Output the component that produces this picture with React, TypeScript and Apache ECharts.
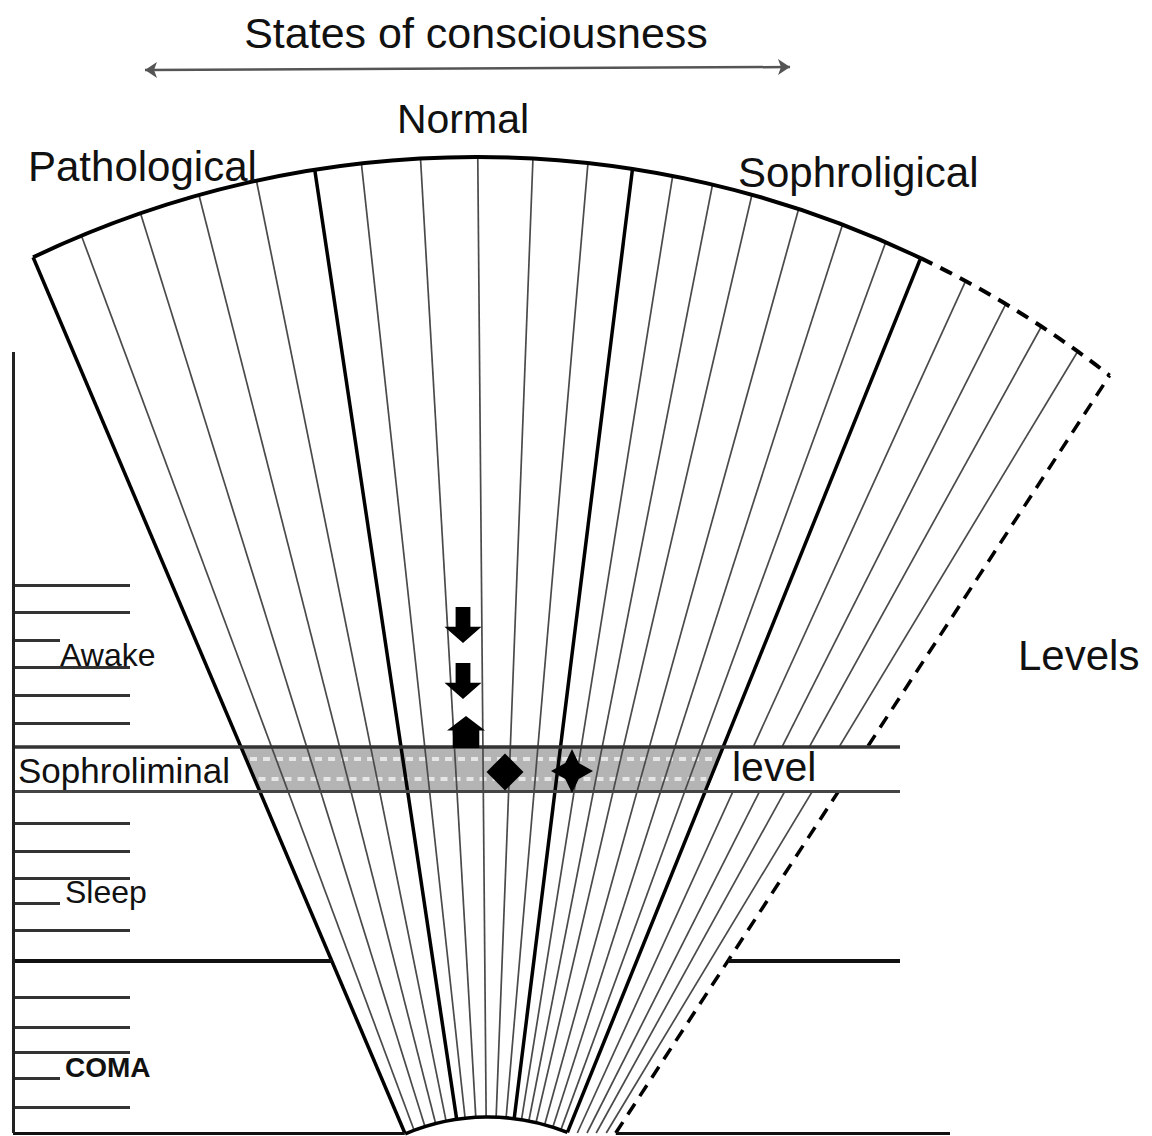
import React, { useEffect, useRef } from "react";
import * as echarts from "echarts";

const W = 1152;
const H = 1136;

// ---- data ----
const titleText = "States of consciousness";
const stateLabels = ["Pathological", "Normal", "Sophroligical"];
const levelsTitle = "Levels";
const levelLabels = ["Awake", "Sleep", "COMA"];
const bandLabels = ["Sophroliminal", "level"];
// fan rays: angle in degrees from vertical (positive = right)
const rayAngles = [-23.0, -20.4, -17.3, -14.3, -11.4, -8.5, -6.2, -3.3, -0.5, 2.2, 4.9, 7.1, 9.1, 11.1, 13.1, 15.5, 17.8, 20.1, 22.0, 24.5, 26.8, 28.9, 31.1, 33.1];
const boldRayIdx = [0, 5, 11, 18];
const dashedRayIdx = [23];
// level scale (y positions along the left scale)
const longTickY = [585, 612, 667, 695, 723, 823, 851, 878, 930, 997, 1027, 1052, 1107];
const shortTickY = [640, 903, 1078];
const bandY = [747, 791];
const dividerY = 961;
const baselineY = 1133;
const scaleTopY = 352;
// path markers
const markerPos = [[463, 625], [463, 681], [466, 732], [505, 772], [572, 771]];
const markerKind = ["down", "down", "up", "diamond", "star"];

// ---- geometry constants ----
const F = { x: 488, y: 1329 }; // fan focus
const INNER_R = 212;
const C = { x: 476, y: 1185 }; // rim circle centre
const RIM_R = 1028;
const deg = Math.PI / 180;
const AXIS_X = 13;

function rayPoints(a: number) {
  const ux = Math.sin(a * deg);
  const uy = -Math.cos(a * deg);
  const dx = F.x - C.x;
  const dy = F.y - C.y;
  const b = ux * dx + uy * dy;
  const t = -b + Math.sqrt(b * b - (dx * dx + dy * dy - RIM_R * RIM_R));
  let t0 = INNER_R;
  if (F.y + uy * t0 > baselineY) t0 = (F.y - baselineY) / -uy;
  return [
    [F.x + ux * t0, F.y + uy * t0],
    [F.x + ux * t, F.y + uy * t],
  ];
}
function xAtY(a: number, y: number) {
  return F.x + (F.y - y) * Math.tan(a * deg);
}

const symbols: Record<string, { path: string; size: number[] }> = {
  down: { path: "path://M3,0L7,0L7,5.5L10,5.5L5,10L0,5.5L3,5.5Z", size: [37, 36] },
  up: { path: "path://M5,0L10,4.5L8.5,4.5L8.5,10L1.5,10L1.5,4.5L0,4.5Z", size: [38, 32] },
  diamond: { path: "path://M5,0L10,5L5,10L0,5Z", size: [37, 37] },
  star: { path: "path://M5,0L6.6,3.2L10,5L6.6,6.8L5,10L3.4,6.8L0,5L3.4,3.2Z", size: [42, 44] },
};

export default function App() {
  const ref = useRef<HTMLDivElement>(null);
  useEffect(() => {
    const chart = echarts.init(ref.current!, null, { renderer: "svg" });
    const rays = rayAngles.map((a) => rayPoints(a));
    const rayData = rays.map((pts, i) => ({
      coords: pts,
      lineStyle: boldRayIdx.includes(i)
        ? { color: "#000", width: 3.5, type: "solid", opacity: 1 }
        : dashedRayIdx.includes(i)
        ? { color: "#000", width: 3.5, type: [13, 9], opacity: 1 }
        : { color: "#4a4a4a", width: 1.7, type: "solid", opacity: 1 },
    }));

    const leftA = rayAngles[0];
    const rightA = rayAngles[rayAngles.length - 1];
    const boldRightA = rayAngles[18];

    const ang = (p: number[]) => Math.atan2(p[1] - C.y, p[0] - C.x);
    const arcSpecs = [
      { cx: C.x, cy: C.y, r: RIM_R, a0: ang(rays[0][1]), a1: ang(rays[18][1]), dash: null as any, w: 4 },
      { cx: C.x, cy: C.y, r: RIM_R, a0: ang(rays[18][1]), a1: ang(rays[23][1]), dash: [13, 9], w: 4 },
      { cx: F.x, cy: F.y, r: INNER_R, a0: (-90 + leftA) * deg, a1: (-90 + boldRightA) * deg, dash: null as any, w: 3.5 },
    ];

    const greyBand = [
      [xAtY(leftA, bandY[0]), bandY[0]],
      [xAtY(boldRightA, bandY[0]), bandY[0]],
      [xAtY(boldRightA, bandY[1]), bandY[1]],
      [xAtY(leftA, bandY[1]), bandY[1]],
    ];
    const whiteCover = [
      [xAtY(boldRightA, bandY[0]) + 2.5, bandY[0] + 1],
      [905, bandY[0] + 1],
      [905, bandY[1] - 1],
      [xAtY(boldRightA, bandY[1]) + 2.5, bandY[1] - 1],
    ];

    const L = (coords: number[][], color: string, width: number) => ({
      coords,
      lineStyle: { color, width, opacity: 1, type: "solid" },
    });
    const levelLines: any[] = [];
    longTickY.forEach((y) => levelLines.push(L([[AXIS_X, y], [130, y]], "#333", 3)));
    shortTickY.forEach((y) => levelLines.push(L([[AXIS_X, y], [60, y]], "#333", 3)));
    levelLines.push(L([[AXIS_X, bandY[0]], [900, bandY[0]]], "#333", 3.5));
    levelLines.push(L([[AXIS_X, bandY[1]], [900, bandY[1]]], "#444", 3));
    levelLines.push(L([[AXIS_X, dividerY], [xAtY(leftA, dividerY), dividerY]], "#111", 4));
    levelLines.push(L([[xAtY(rightA, dividerY), dividerY], [900, dividerY]], "#111", 4));
    levelLines.push(L([[AXIS_X, baselineY], [xAtY(leftA, baselineY), baselineY]], "#111", 3));
    levelLines.push(L([[xAtY(rightA, baselineY), baselineY], [950, baselineY]], "#111", 3));
    levelLines.push(L([[AXIS_X, scaleTopY], [AXIS_X, baselineY]], "#222", 3));

    // texture strokes inside the grey band
    const textureLines = [
      { coords: [[xAtY(leftA, 759) + 4, 759], [xAtY(boldRightA, 759) - 4, 759]] },
      { coords: [[xAtY(leftA, 779) + 4, 779], [xAtY(boldRightA, 779) - 4, 779]] },
    ];

    const font = "'Liberation Sans', Arial, Helvetica, sans-serif";
    const textSpecs = [
      { t: titleText, x: 476, y: 33, s: 43, al: "center" },
      { t: stateLabels[1], x: 463, y: 119, s: 41, al: "center" },
      { t: stateLabels[0], x: 28, y: 166, s: 42, al: "left" },
      { t: stateLabels[2], x: 738, y: 172, s: 42, al: "left" },
      { t: levelsTitle, x: 1018, y: 655, s: 42, al: "left" },
      { t: bandLabels[0], x: 18, y: 770, s: 35, al: "left" },
      { t: bandLabels[1], x: 732, y: 767, s: 41, al: "left" },
      { t: levelLabels[0], x: 60, y: 655, s: 32, al: "left" },
      { t: levelLabels[1], x: 65, y: 892, s: 32, al: "left" },
      { t: levelLabels[2], x: 65, y: 1067, s: 28, al: "left", b: true },
    ];

    const polyItem = (pts: number[][], fill: string) => (params: any, api: any) => ({
      type: "polygon",
      shape: { points: pts.map((p) => api.coord(p)) },
      style: { fill },
    });

    const option: any = {
      animation: false,
      backgroundColor: "#fff",
      grid: { left: 0, right: 0, top: 0, bottom: 0, containLabel: false },
      xAxis: { type: "value", min: 0, max: W, show: false },
      yAxis: { type: "value", min: 0, max: H, inverse: true, show: false },
      series: [
        {
          type: "custom",
          coordinateSystem: "cartesian2d",
          z: 1,
          silent: true,
          data: [[0, 0]],
          renderItem: polyItem(greyBand, "#b4b4b4"),
        },
        {
          type: "lines",
          coordinateSystem: "cartesian2d",
          z: 1,
          silent: true,
          lineStyle: { color: "#e6e6e6", width: 4, type: [7, 6], opacity: 1 },
          data: textureLines,
        },
        {
          type: "lines",
          coordinateSystem: "cartesian2d",
          z: 2,
          silent: true,
          lineStyle: { opacity: 1 },
          data: rayData,
        },
        {
          type: "custom",
          coordinateSystem: "cartesian2d",
          z: 3,
          silent: true,
          data: [[0, 0]],
          renderItem: polyItem(whiteCover, "#fff"),
        },
        {
          type: "lines",
          coordinateSystem: "cartesian2d",
          z: 4,
          silent: true,
          lineStyle: { opacity: 1 },
          data: levelLines,
        },
        {
          type: "custom",
          coordinateSystem: "cartesian2d",
          z: 4,
          silent: true,
          data: arcSpecs.map((_, i) => [i, 0]),
          renderItem: (params: any, api: any) => {
            const s = arcSpecs[params.dataIndex];
            const c0 = api.coord([0, 0]);
            const c1 = api.coord([1, 1]);
            const cx = c0[0] + s.cx * (c1[0] - c0[0]);
            const cy = c0[1] + s.cy * (c1[1] - c0[1]);
            const r = s.r * (c1[0] - c0[0]);
            const style: any = { stroke: "#000", lineWidth: s.w, fill: "none" };
            if (s.dash) style.lineDash = s.dash;
            return {
              type: "arc",
              shape: { cx, cy, r, startAngle: s.a0, endAngle: s.a1, clockwise: true },
              style,
            };
          },
        },
        {
          type: "lines",
          coordinateSystem: "cartesian2d",
          z: 4,
          silent: true,
          symbol: ["arrow", "arrow"],
          symbolSize: 12,
          lineStyle: { color: "#555", width: 2.5, opacity: 1 },
          data: [{ coords: [[145, 70], [790, 67]] }],
        },
        {
          type: "scatter",
          z: 5,
          silent: true,
          itemStyle: { color: "#000", opacity: 1 },
          data: markerPos.map((p, i) => ({
            value: p,
            symbol: symbols[markerKind[i]].path,
            symbolSize: symbols[markerKind[i]].size,
          })),
        },
      ],
      graphic: textSpecs.map((t) => ({
        type: "text",
        x: t.x,
        y: t.y,
        z: 100,
        silent: true,
        style: {
          text: t.t,
          fontSize: t.s,
          fontFamily: font,
          fontWeight: (t as any).b ? "bold" : "normal",
          fill: "#111",
          textAlign: t.al,
          align: t.al,
          textVerticalAlign: "middle",
          verticalAlign: "middle",
        },
      })),
    };
    chart.setOption(option);
    return () => chart.dispose();
  }, []);
  return (
    <div
      ref={ref}
      style={{ position: "fixed", left: 0, top: 0, width: W, height: H, background: "#fff" }}
    />
  );
}
